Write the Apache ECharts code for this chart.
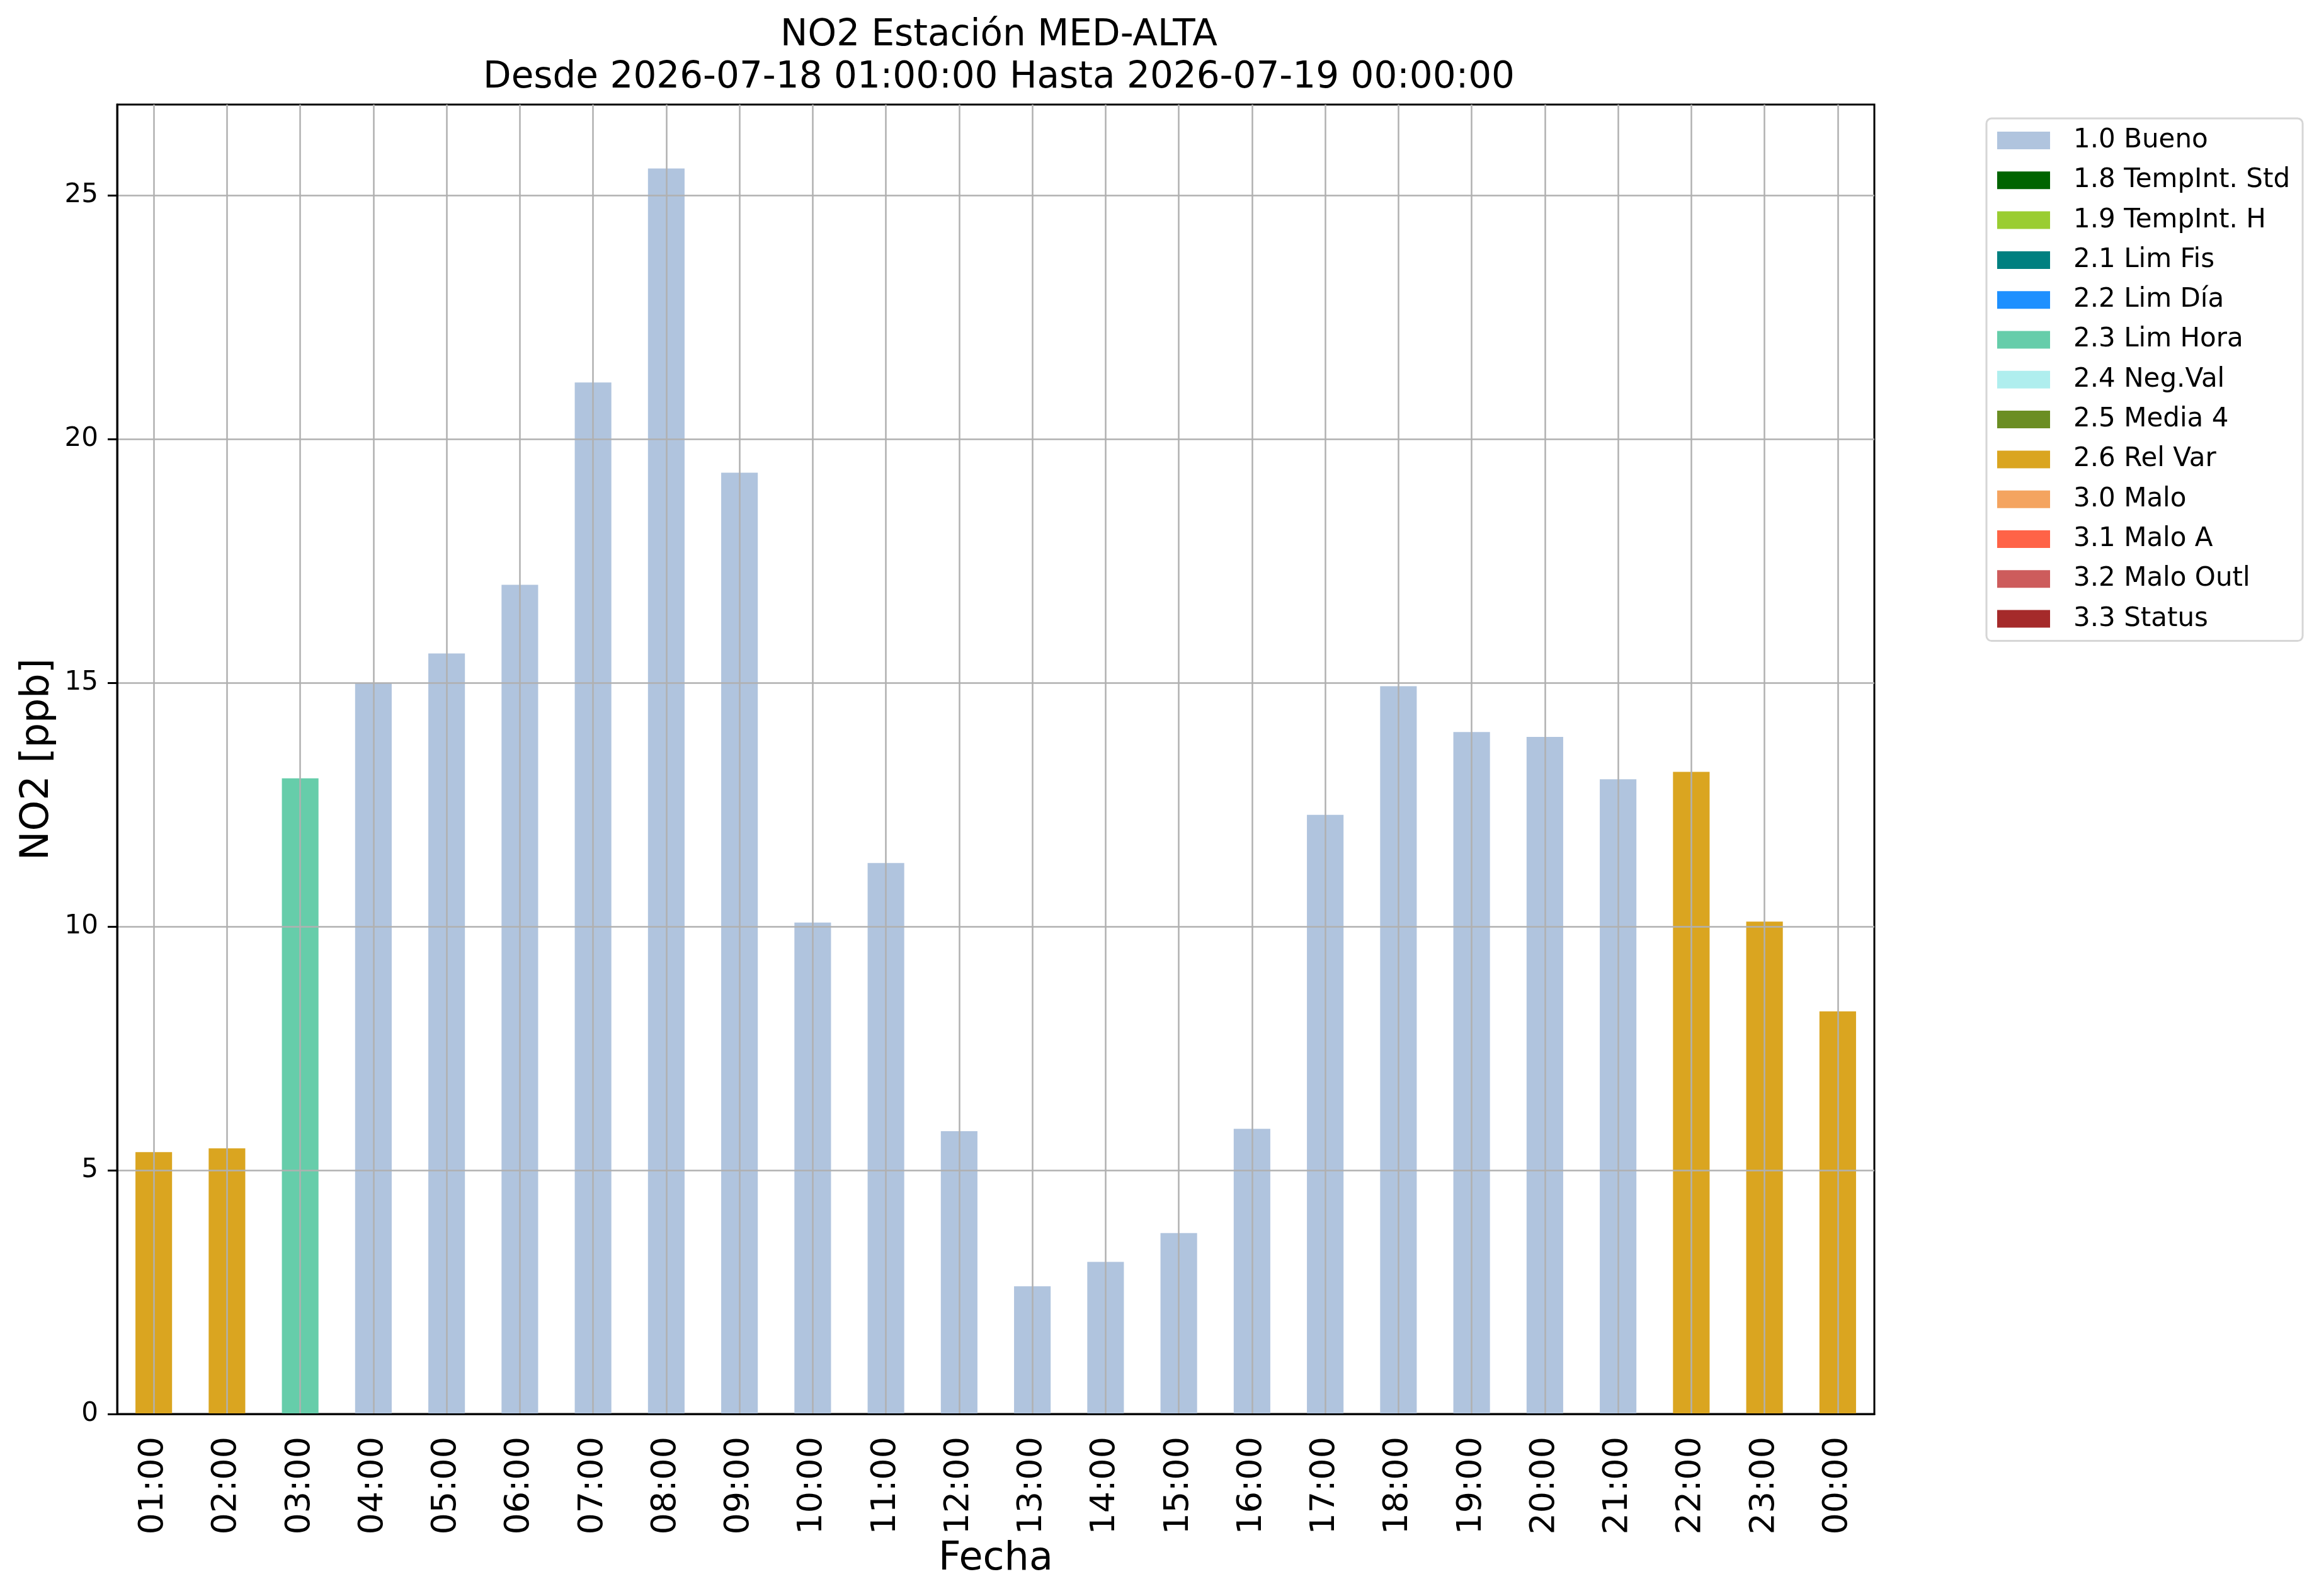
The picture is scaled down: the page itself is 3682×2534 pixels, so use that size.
<!DOCTYPE html>
<html>
<head>
<meta charset="utf-8">
<script src="https://cdn.jsdelivr.net/npm/echarts@6/dist/echarts.min.js"></script>
<style>
  html, body { margin: 0; padding: 0; background: #fff; }
  #chart { width: 3682px; height: 2534px; }
</style>
</head>
<body>
<div id="chart"></div>
<script>
// horas (eje x)
var hours = ['01:00','02:00','03:00','04:00','05:00','06:00','07:00','08:00','09:00','10:00','11:00','12:00',
             '13:00','14:00','15:00','16:00','17:00','18:00','19:00','20:00','21:00','22:00','23:00','00:00'];
// NO2 [ppb]
var no2 = [5.37, 5.45, 13.04, 15.0, 15.6, 17.01, 21.16, 25.55, 19.31, 10.08, 11.3, 5.8,
           2.62, 3.12, 3.71, 5.85, 12.29, 14.93, 13.99, 13.89, 13.02, 13.17, 10.1, 8.26];
// bandera de validacion de cada hora
var flags = ['2.6 Rel Var','2.6 Rel Var','2.3 Lim Hora','1.0 Bueno','1.0 Bueno','1.0 Bueno','1.0 Bueno','1.0 Bueno',
             '1.0 Bueno','1.0 Bueno','1.0 Bueno','1.0 Bueno','1.0 Bueno','1.0 Bueno','1.0 Bueno','1.0 Bueno',
             '1.0 Bueno','1.0 Bueno','1.0 Bueno','1.0 Bueno','1.0 Bueno','2.6 Rel Var','2.6 Rel Var','2.6 Rel Var'];
// leyenda
var flagNames = ['1.0 Bueno','1.8 TempInt. Std','1.9 TempInt. H','2.1 Lim Fis','2.2 Lim Día','2.3 Lim Hora',
                 '2.4 Neg.Val','2.5 Media 4','2.6 Rel Var','3.0 Malo','3.1 Malo A','3.2 Malo Outl','3.3 Status'];
var flagColors = ['#B0C4DE','#006400','#9ACD32','#008080','#1E90FF','#66CDAA',
                  '#AFEEEE','#6B8E23','#DAA520','#F4A460','#FF6347','#CD5C5C','#A52A2A'];
var yTicks = [0, 5, 10, 15, 20, 25];

var font = 'DejaVu Sans';
var myChart = echarts.init(document.getElementById('chart'));

// una serie por bandera, apiladas para que queden en la misma posicion
var series = flagNames.map(function (name, k) {
    return {
        name: name,
        type: 'bar',
        stack: 'all',
        barWidth: '50%',
        itemStyle: { color: flagColors[k] },
        data: no2.map(function (v, i) { return flags[i] == name ? v : null })
    }
});

var option = {
    animation: false,
    backgroundColor: '#fff',
    textStyle: { fontFamily: font },
    title: {
        text: 'NO2 Estación MED-ALTA\nDesde 2026-07-18 01:00:00 Hasta 2026-07-19 00:00:00',
        left: 1581,
        top: 18,
        textAlign: 'center',
        textStyle: { fontFamily: font, fontSize: 58, fontWeight: 'normal', color: '#000', lineHeight: 67 }
    },
    legend: {
        orient: 'vertical',
        left: 3154,
        top: 188,
        padding: [14, 20, 14, 17],
        itemWidth: 84,
        itemHeight: 28,
        itemGap: 21.3,
        icon: 'rect',
        borderColor: '#d6d6d6',
        borderWidth: 3,
        borderRadius: 8,
        selectedMode: false,
        data: flagNames,
        textStyle: { fontFamily: font, fontSize: 42, color: '#000', padding: [0, 0, 0, 32] }
    },
    grid: {
        left: 186, right: 706, top: 166, bottom: 289,
        show: true, borderColor: '#000', borderWidth: 3, backgroundColor: 'transparent'
    },
    xAxis: {
        type: 'category',
        data: hours,
        z: 3,
        name: 'Fecha',
        nameLocation: 'middle',
        nameGap: 192,
        nameTextStyle: { fontFamily: font, fontSize: 62, color: '#000' },
        axisLine: { lineStyle: { color: '#000', width: 3 } },
        axisTick: { alignWithLabel: true, length: 15, lineStyle: { color: '#000', width: 3 } },
        axisLabel: { rotate: 90, margin: 36, fontFamily: font, fontSize: 54, color: '#000', interval: 0 },
        splitLine: { show: true, alignWithLabel: true, lineStyle: { color: '#b0b0b0', width: 2.5 } }
    },
    yAxis: {
        type: 'value',
        min: 0,
        max: 26.86,
        interval: 5,
        z: 3,
        name: 'NO2 [ppb]',
        nameLocation: 'middle',
        nameGap: 95,
        nameTextStyle: { fontFamily: font, fontSize: 62, color: '#000' },
        axisLine: { show: true, lineStyle: { color: '#000', width: 3 } },
        axisTick: { show: true, length: 15, lineStyle: { color: '#000', width: 3 } },
        axisLabel: {
            margin: 30, fontFamily: font, fontSize: 42, color: '#000', showMaxLabel: false,
            formatter: function (v) { return yTicks.indexOf(v) >= 0 ? String(v) : '' }
        },
        splitLine: { show: true, showMaxLine: false, lineStyle: { color: '#b0b0b0', width: 2.5 } }
    },
    series: series
};

myChart.setOption(option);
</script>
</body>
</html>
